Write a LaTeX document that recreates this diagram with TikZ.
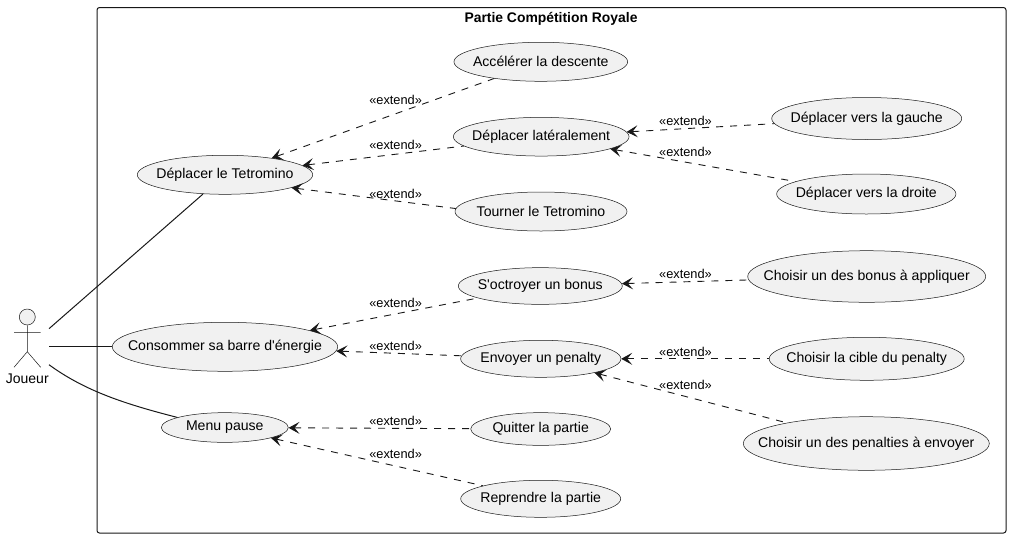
\documentclass[tikz,border=0pt]{standalone}
\usepackage{fontspec}
\setmainfont[Ligatures=TeXOff]{Liberation Sans}
\usetikzlibrary{arrows.meta}
\usetikzlibrary{shapes.geometric}

\definecolor{casefill}{HTML}{F1F1F1}
\definecolor{caseline}{HTML}{181818}
\newcommand{\uctext}[1]{\makebox[0pt]{#1}}

\tikzset{
  usecase/.style={draw=caseline, fill=casefill, ellipse, line width=0.5pt, inner sep=0pt, font=\fontsize{14.1}{16}\selectfont},
  extlink/.style={{Stealth[length=11pt,width=12pt,inset=5pt]}-, draw=caseline, line width=0.9pt, dash pattern=on 7pt off 7pt},
  extlabel/.style={inner sep=0pt, font=\fontsize{12.8}{15}\selectfont},
  assoc/.style={draw=caseline, line width=1pt}
}

\begin{document}
\begin{tikzpicture}[x=1pt, y=-1pt]
  \useasboundingbox (0,0) rectangle (1011,539);

  % Cadre
  \draw[rounded corners=2.5pt, line width=1pt, draw=caseline] (97,7.5) rectangle (1006,533);
  \node[font=\fontsize{13.9}{16}\selectfont\bfseries] (titre) at (551,18.5) {Partie Compétition Royale};

  % Cas d'utilisation
  \node[usecase, minimum width=175.4pt, minimum height=39pt] (deplacer) at (225,174.8) {\uctext{Déplacer le Tetromino}};
  \node[usecase, minimum width=225.4pt, minimum height=49pt] (consommer) at (225,346.8) {\uctext{Consommer sa barre d'énergie}};
  \node[usecase, minimum width=127pt, minimum height=29.7pt] (pause) at (224.8,427.5) {\uctext{Menu pause}};
  \node[usecase, minimum width=173.7pt, minimum height=39pt] (accelerer) at (540.8,61.8) {\uctext{Accélérer la descente}};
  \node[usecase, minimum width=175.7pt, minimum height=38.7pt] (lateral) at (541.2,136.7) {\uctext{Déplacer latéralement}};
  \node[usecase, minimum width=172pt, minimum height=39pt] (tourner) at (541,211.5) {\uctext{Tourner le Tetromino}};
  \node[usecase, minimum width=164pt, minimum height=36.7pt] (bonus) at (540.3,286) {\uctext{S'octroyer un bonus}};
  \node[usecase, minimum width=160.3pt, minimum height=37pt] (penalty) at (540.8,358.8) {\uctext{Envoyer un penalty}};
  \node[usecase, minimum width=140pt, minimum height=32.7pt] (quitter) at (540.7,429) {\uctext{Quitter la partie}};
  \node[usecase, minimum width=160pt, minimum height=37pt] (reprendre) at (540.7,498.8) {\uctext{Reprendre la partie}};
  \node[usecase, minimum width=190pt, minimum height=42pt] (gauche) at (866.7,118.5) {\uctext{Déplacer vers la gauche}};
  \node[usecase, minimum width=179.3pt, minimum height=40pt] (droite) at (866.3,194) {\uctext{Déplacer vers la droite}};
  \node[usecase, minimum width=238pt, minimum height=51.6pt] (choixbonus) at (866.7,276.5) {\uctext{Choisir un des bonus à appliquer}};
  \node[usecase, minimum width=195pt, minimum height=43pt] (cible) at (866.7,358.8) {\uctext{Choisir la cible du penalty}};
  \node[usecase, minimum width=246pt, minimum height=53.6pt] (choixpenalty) at (866.3,443.5) {\uctext{Choisir un des penalties à envoyer}};

  % Acteur
  \node[draw=caseline, fill=casefill, circle, line width=0.5pt, minimum size=16pt, inner sep=0pt] (tete) at (27.3,317) {};
  \coordinate (bassin) at (27.3,351.7);
  \coordinate (brasg) at (14,332.7);
  \coordinate (brasd) at (40.7,332.7);
  \coordinate (piedg) at (14,367.3);
  \coordinate (piedd) at (40.7,367.3);
  \draw[draw=caseline, line width=0.5pt] (tete) -- (bassin) (brasg) -- (brasd) (piedg) -- (bassin) -- (piedd);
  \node[font=\fontsize{14}{16}\selectfont] (joueur) at (27.3,378.5) {Joueur};

  % Associations
  \coordinate (a1) at (49,328.7);
  \coordinate (a2) at (49,346.8);
  \coordinate (a3) at (49,364.7);
  \draw[assoc] (a1) -- (deplacer);
  \draw[assoc] (a2) -- (consommer);
  \draw[assoc] (a3) .. controls (85,391) and (125,404) .. (pause.168);

  % Extensions
  \draw[extlink] (deplacer) -- (accelerer);
  \draw[extlink] (deplacer) -- (lateral);
  \draw[extlink] (deplacer.-11) -- (tourner.178);
  \draw[extlink] (lateral) -- (gauche);
  \draw[extlink] (lateral) -- (droite);
  \draw[extlink] (consommer) -- (bonus);
  \draw[extlink] (consommer) -- (penalty);
  \draw[extlink] (bonus) -- (choixbonus);
  \draw[extlink] (penalty) -- (cible);
  \draw[extlink] (penalty) -- (choixpenalty);
  \draw[extlink] (pause) -- (quitter);
  \draw[extlink] (pause) -- (reprendre);

  % Etiquettes
  \node[extlabel] (l1) at (395.6,100) {«extend»};
  \node[extlabel] (l2) at (395.6,145) {«extend»};
  \node[extlabel] (l3) at (395.6,194) {«extend»};
  \node[extlabel] (l4) at (395.6,303) {«extend»};
  \node[extlabel] (l5) at (395.6,346) {«extend»};
  \node[extlabel] (l6) at (395.6,421) {«extend»};
  \node[extlabel] (l7) at (395.6,454) {«extend»};
  \node[extlabel] (l8) at (685.5,121) {«extend»};
  \node[extlabel] (l9) at (685.5,152) {«extend»};
  \node[extlabel] (l10) at (685.5,274) {«extend»};
  \node[extlabel] (l11) at (685.5,352) {«extend»};
  \node[extlabel] (l12) at (685.5,385) {«extend»};
\end{tikzpicture}
\end{document}
